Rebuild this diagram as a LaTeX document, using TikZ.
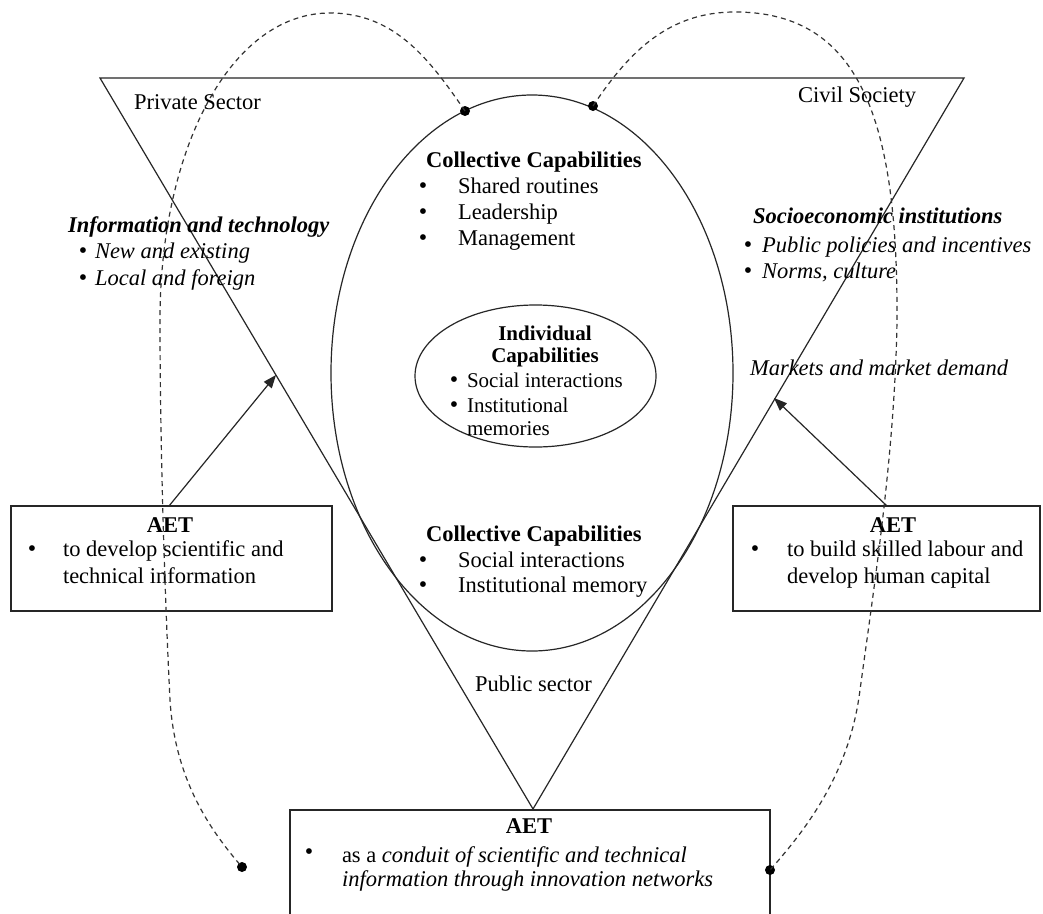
\documentclass[tikz,border=0pt]{standalone}
\usepackage{fontspec}
\setmainfont{Liberation Serif}
\usetikzlibrary{arrows.meta,shapes.geometric}
\begin{document}
\begin{tikzpicture}[x=1pt,y=-1pt,
  every node/.style={inner sep=0pt, outer sep=0pt, font=\fontsize{22.5}{26}\selectfont},
  txt/.style={anchor=west, text height=15pt, text depth=5pt},
  ctxt/.style={anchor=center, text height=15pt, text depth=5pt},
  small/.style={font=\fontsize{21}{24}\selectfont},
  bul/.style={anchor=center, font=\fontsize{24}{24}\selectfont},
  shapeline/.style={draw=black!85, line width=1.2pt},
  dashline/.style={draw=black!80, line width=1.2pt, dash pattern=on 5pt off 4pt},
  dot/.style={circle, fill=black, minimum size=10pt, inner sep=0pt},
  box/.style={draw=black!85, line width=1.3pt, anchor=north west},
  arr/.style={draw=black!85, line width=1.2pt, -{Triangle[length=13pt,width=10pt]}}
]
\useasboundingbox (0,0) rectangle (1043,913);
\clip (0,0) rectangle (1043,913);
\fill[white] (0,0) rectangle (1043,913);

% triangle
\coordinate (TL) at (100,78);
\coordinate (TR) at (964,78);
\coordinate (TB) at (533,809);
\draw[shapeline] (TL) -- (TR) -- (TB) -- cycle;

% ellipses
\node[ellipse, shapeline, minimum width=402pt, minimum height=556pt] (BigE) at (532,373) {};
\node[ellipse, shapeline, minimum width=241pt, minimum height=142pt] (SmallE) at (535.5,376) {};

% boxes
\node[box, minimum width=321pt, minimum height=105pt] (LBox) at (11,506) {};
\node[box, minimum width=307pt, minimum height=105pt] (RBox) at (733,506) {};
\node[box, minimum width=480pt, minimum height=130pt] (BBox) at (290,810) {};

% arrows
\coordinate (LA) at (276,375);
\coordinate (RA) at (774,398);
\draw[arr] ([xshift=158pt]LBox.north west) -- (LA);
\draw[arr] ([xshift=154pt]RBox.north west) -- (RA);

% sector labels
\node[txt] (ps) at (134,104) {Private Sector};
\node[txt] (cs) at (798,97) {Civil Society};
\node[txt] (pub) at (475,686) {Public sector};

% collective capabilities (top)
\node[txt, font=\fontsize{22.5}{26}\selectfont\bfseries] (cc1) at (426,162) {Collective Capabilities};
\node[bul] (cc1b1) at (423,188) {\textbullet};
\node[txt] (cc1t1) at (458,188) {Shared routines};
\node[bul] (cc1b2) at (423,214) {\textbullet};
\node[txt] (cc1t2) at (458,214) {Leadership};
\node[bul] (cc1b3) at (423,240) {\textbullet};
\node[txt] (cc1t3) at (458,240) {Management};

% information and technology
\node[txt, font=\fontsize{22.5}{26}\selectfont\bfseries\itshape] (it) at (68,227) {Information and technology};
\node[bul] (itb1) at (83,253) {\textbullet};
\node[txt, font=\fontsize{22.5}{26}\selectfont\itshape] (itt1) at (95,253) {New and existing};
\node[bul] (itb2) at (83,280) {\textbullet};
\node[txt, font=\fontsize{22.5}{26}\selectfont\itshape] (itt2) at (95,280) {Local and foreign};

% socioeconomic institutions
\node[txt, font=\fontsize{22.5}{26}\selectfont\bfseries\itshape] (si) at (753,218) {Socioeconomic institutions};
\node[bul] (sib1) at (748,247) {\textbullet};
\node[txt, font=\fontsize{22.5}{26}\selectfont\itshape] (sit1) at (762,247) {Public policies and incentives};
\node[bul] (sib2) at (748,273) {\textbullet};
\node[txt, font=\fontsize{22.5}{26}\selectfont\itshape] (sit2) at (762,273) {Norms, culture};

% markets
\node[txt, font=\fontsize{22.5}{26}\selectfont\itshape] (mk) at (750,370) {Markets and market demand};

% individual capabilities
\node[ctxt, font=\fontsize{21}{24}\selectfont\bfseries] (ic1) at (545,335) {Individual};
\node[ctxt, font=\fontsize{21}{24}\selectfont\bfseries] (ic2) at (545,357) {Capabilities};
\node[bul] (icb1) at (454,382) {\textbullet};
\node[txt, small] (ict1) at (467,382) {Social interactions};
\node[bul] (icb2) at (454,407) {\textbullet};
\node[txt, small] (ict2) at (467,407) {Institutional};
\node[txt, small] (ict3) at (467,430) {memories};

% collective capabilities (bottom)
\node[txt, font=\fontsize{22.5}{26}\selectfont\bfseries] (cc2) at (426,536) {Collective Capabilities};
\node[bul] (cc2b1) at (423,562) {\textbullet};
\node[txt] (cc2t1) at (458,562) {Social interactions};
\node[bul] (cc2b2) at (423,587) {\textbullet};
\node[txt] (cc2t2) at (458,587) {Institutional memory};

% left box text
\node[ctxt, font=\fontsize{22.5}{26}\selectfont\bfseries] (la) at (170,527) {AET};
\node[bul] (lb) at (32,551) {\textbullet};
\node[txt] (lt1) at (63,551) {to develop scientific and};
\node[txt] (lt2) at (63,578) {technical information};

% right box text
\node[ctxt, font=\fontsize{22.5}{26}\selectfont\bfseries] (ra) at (893,527) {AET};
\node[bul] (rb) at (755,551) {\textbullet};
\node[txt] (rt1) at (787,551) {to build skilled labour and};
\node[txt] (rt2) at (787,578) {develop human capital};

% bottom box text
\node[ctxt, font=\fontsize{22.5}{26}\selectfont\bfseries] (ba) at (529,828) {AET};
\node[bul] (bb) at (309,854) {\textbullet};
\node[txt] (bt1) at (342,857) {as a \textit{conduit of scientific and technical}};
\node[txt, font=\fontsize{22.5}{26}\selectfont\itshape] (bt2) at (342,881) {information through innovation networks};

% dots
\node[dot] (LDot) at (465,111) {};
\node[dot] (RDot) at (593,106) {};
\node[dot] (LBot) at (242,867) {};
\node[dot] (RBot) at (770,870) {};

% dashed curves
\draw[dashline] (LDot.center) .. controls (430,60) and (395,13) .. (330,13)
  .. controls (230,13) and (160,150) .. (160,320)
  .. controls (160,450) and (165,600) .. (170,700)
  .. controls (175,780) and (210,830) .. (LBot.center);
\draw[dashline] (RDot.center) .. controls (630,50) and (670,12) .. (735,12)
  .. controls (860,12) and (898,120) .. (897,320)
  .. controls (895,450) and (875,580) .. (860,690)
  .. controls (850,770) and (810,825) .. (RBot.center);
\end{tikzpicture}
\end{document}
